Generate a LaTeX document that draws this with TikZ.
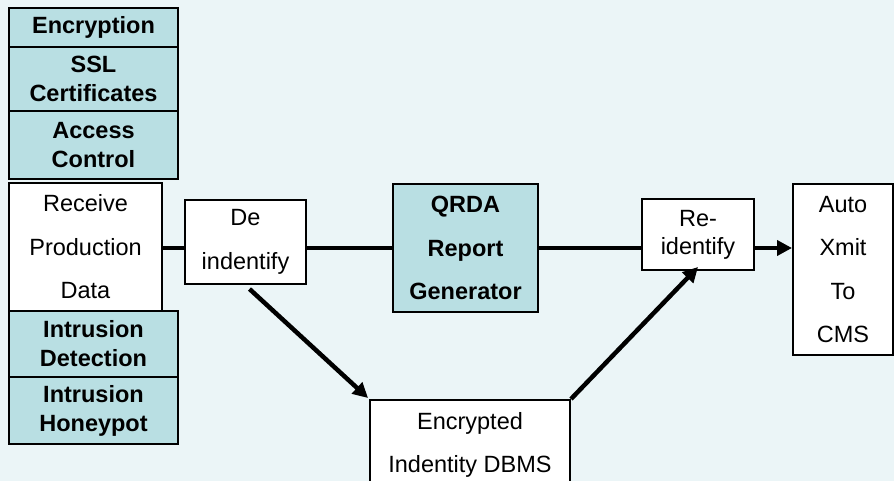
\documentclass[tikz,border=0pt]{standalone}
\usepackage{fontspec}
\setmainfont{Liberation Sans}
\usetikzlibrary{arrows.meta,calc}
\definecolor{bgc}{RGB}{235,245,247}
\definecolor{teal}{RGB}{185,223,227}
\tikzset{
  box/.style={draw=black, line width=2pt, inner sep=0pt, align=center, fill=white,
    font=\fontsize{23.5}{43.5}\selectfont},
  tbox/.style={box, fill=teal, font=\fontsize{23.5}{29}\bfseries\selectfont},
  tboxwide/.style={box, fill=teal, font=\fontsize{23.5}{43.5}\bfseries\selectfont},
  link/.style={line width=4.5pt},
  arr/.style={line width=4.5pt, -{Triangle[length=15pt,width=15pt]}}
}
\begin{document}
\begin{tikzpicture}[x=1pt,y=-1pt]
\clip (0,0) rectangle (894,481);
\fill[bgc] (0,0) rectangle (894,481);
\useasboundingbox (0,0) rectangle (894,481);
% left column
\node[tbox, minimum width=169pt, minimum height=39pt] (enc) at (93.5,27.5) {Encryption};
\node[tbox, minimum width=169pt, minimum height=64pt] (ssl) at (93.5,79) {SSL\\Certificates};
\node[tbox, minimum width=169pt, minimum height=68pt] (acc) at (93.5,145) {Access\\Control};
\node[box, minimum width=153pt, minimum height=128pt] (recv) at (85.5,247) {Receive\\Production\\Data};
\node[tbox, minimum width=169pt, minimum height=66pt] (intd) at (93.5,344) {Intrusion\\Detection};
\node[tbox, minimum width=169pt, minimum height=67pt] (inth) at (93.5,410.5) {Intrusion\\Honeypot};
% process boxes
\node[box, minimum width=121pt, minimum height=84pt] (de) at (245.5,242) {De\\indentify};
\node[tboxwide, minimum width=145pt, minimum height=128pt] (qrda) at (465.5,248) {QRDA\\Report\\Generator};
\node[box, minimum width=200pt, minimum height=90pt] (dbms) at (470,445) {Encrypted\\Indentity DBMS};
\node[box, minimum width=112pt, minimum height=71pt, font=\fontsize{23.5}{28}\selectfont] (re) at (698,234.5) {Re-\\identify};
\node[box, minimum width=100pt, minimum height=171pt] (auto) at (843,269.5) {Auto\\Xmit\\To\\CMS};
% connectors
\draw[link] (recv.east |- qrda.west) -- (de.west |- qrda.west);
\draw[link] (de.east |- qrda.west) -- (qrda.west);
\draw[link] (qrda.east) -- (re.west |- qrda.east);
\draw[arr] (re.east |- qrda.east) -- (auto.west |- qrda.east);
\draw[arr] ($(de.south)+(4,4)$) -- ($(dbms.north west)+(-1,-1)$);
\draw[arr] (dbms.north east) -- ($(re.south)+(0,-4)$);
\end{tikzpicture}
\end{document}
